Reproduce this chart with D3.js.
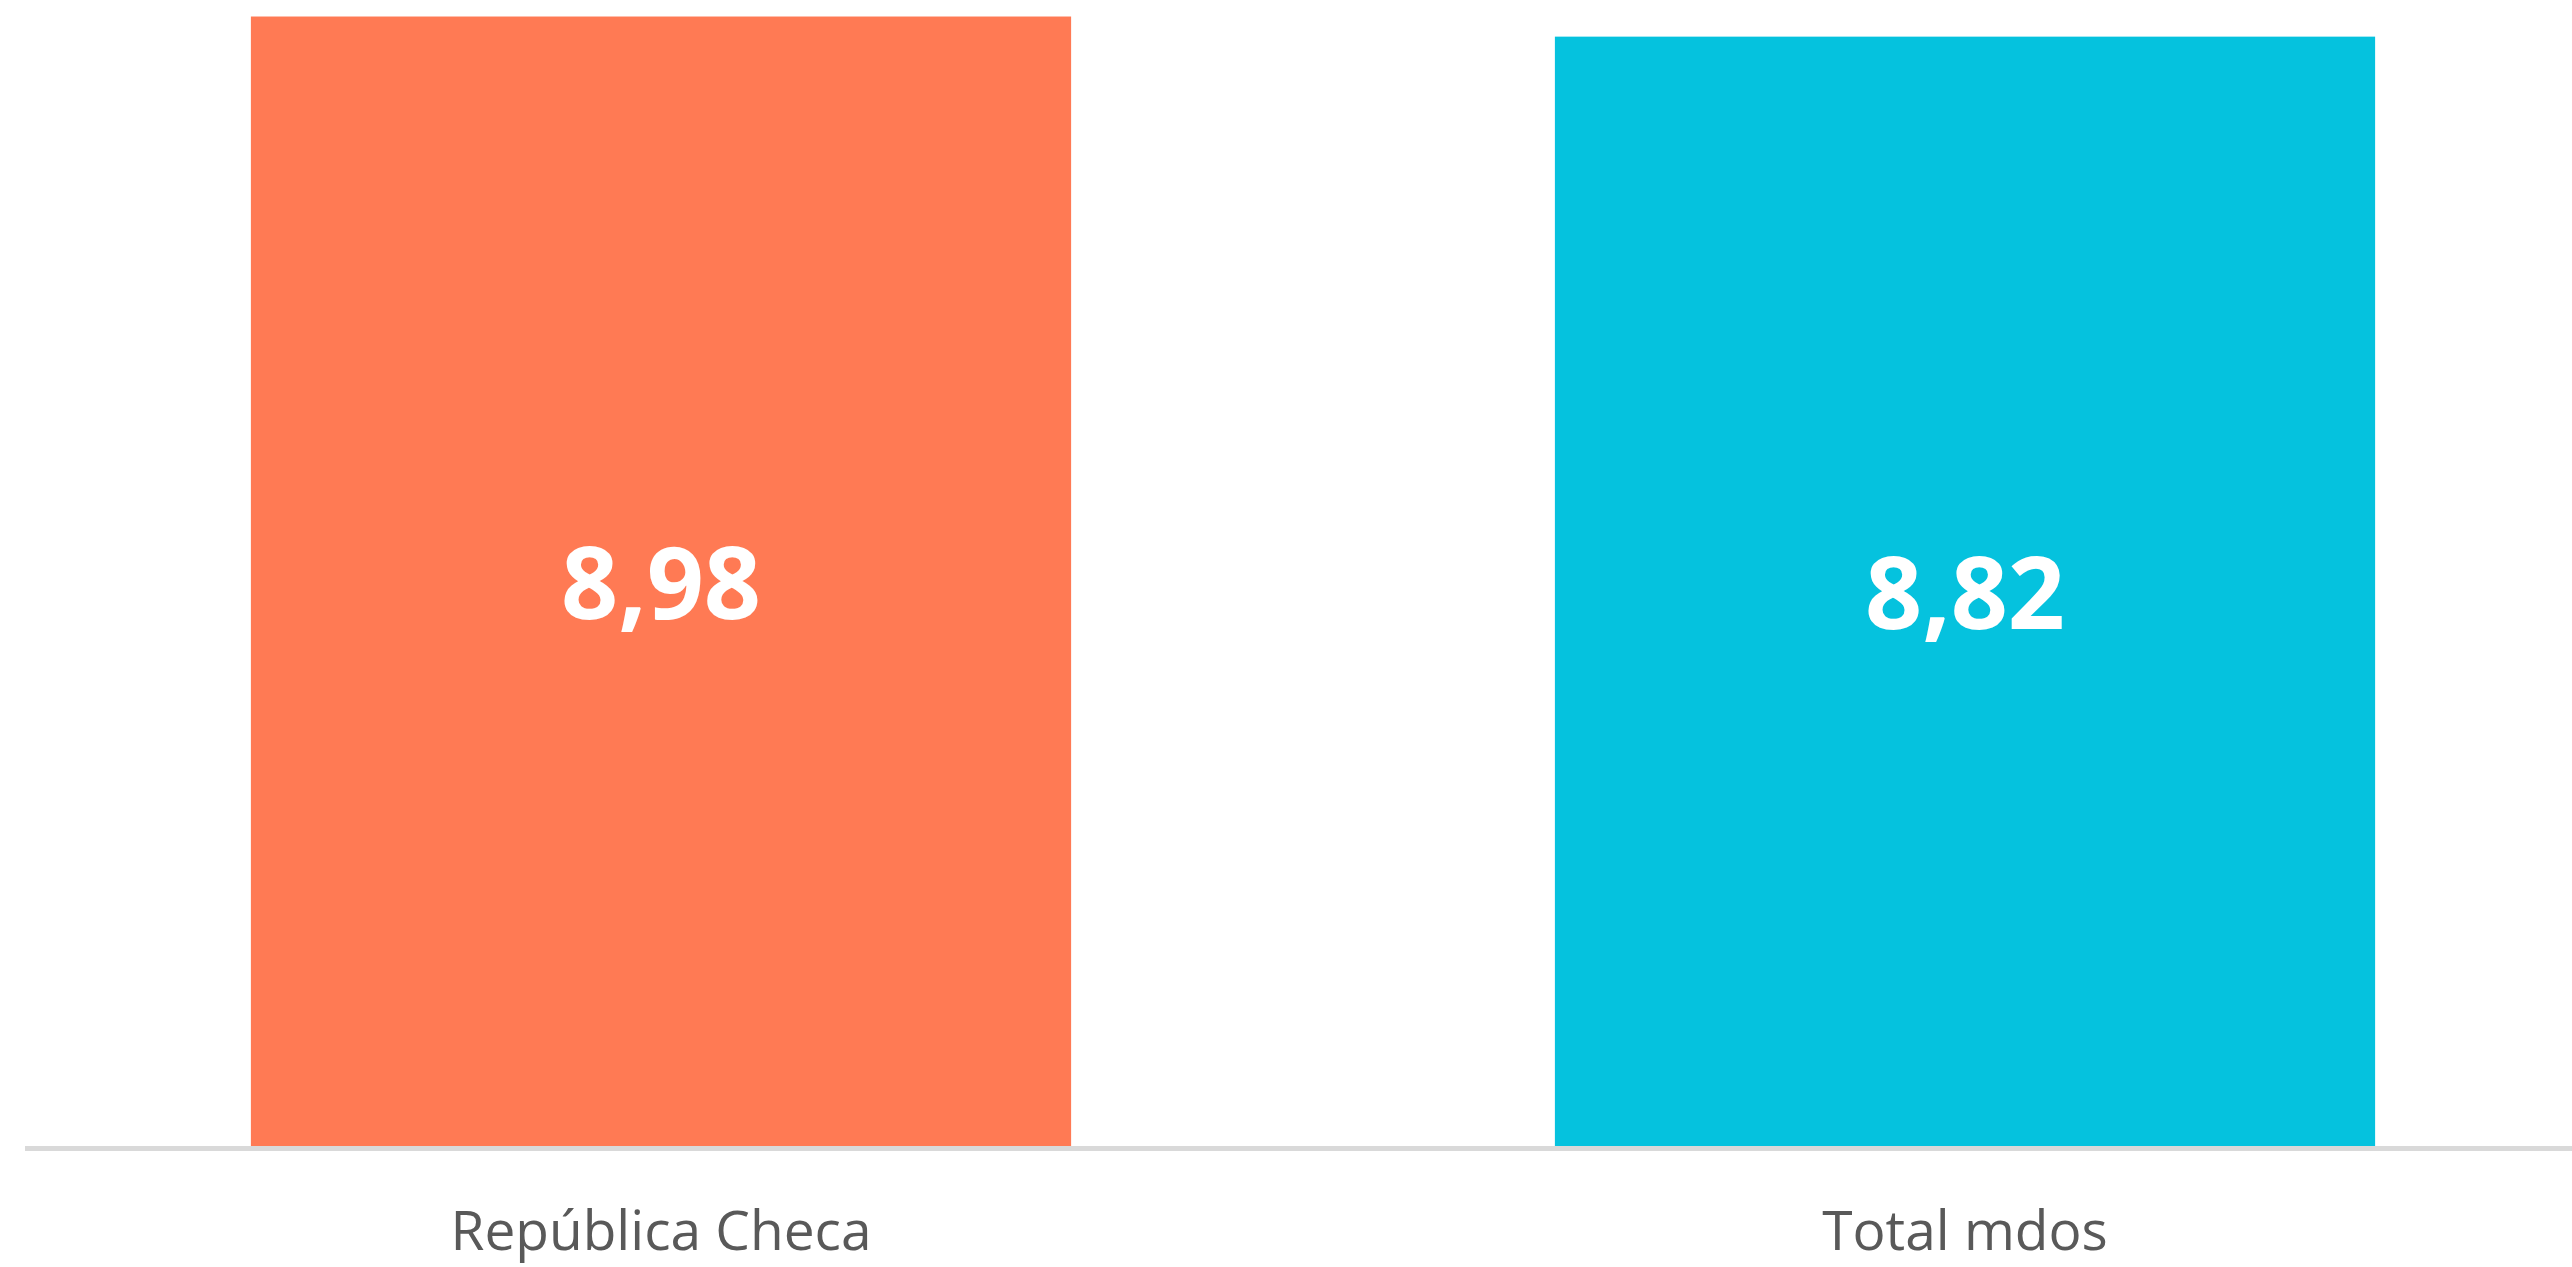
<!DOCTYPE html>
<html>
<head>
<meta charset="utf-8">
<script src="https://cdn.jsdelivr.net/npm/d3@7"></script>
<style>
html,body{margin:0;padding:0;background:#fff;overflow:hidden;}
</style>
</head>
<body>
<svg id="chart" width="2572" height="1267"></svg>
<script>
const categories = ["República Checa", "Total mdos"];
const values = [8.98, 8.82];
const valueLabels = ["8,98", "8,82"];
const barColors = ["#FF7A54", "#05C2DE"];

const W = 2572, H = 1267;
const svg = d3.select("#chart");

const x = d3.scaleBand().domain(categories).range([9, 2617]).paddingInner(0.371).paddingOuter(0.1855);
const y = d3.scaleLinear().domain([0, 9]).range([1146, 14]);

svg.append("g").selectAll("rect").data(categories).join("rect")
  .attr("x", d => x(d))
  .attr("width", x.bandwidth())
  .attr("y", (d, i) => y(values[i]))
  .attr("height", (d, i) => y(0) - y(values[i]))
  .attr("fill", (d, i) => barColors[i]);

// axis baseline
svg.append("line")
  .attr("x1", 25).attr("x2", W)
  .attr("y1", y(0) + 2.5).attr("y2", y(0) + 2.5)
  .attr("stroke", "#D9D9D9").attr("stroke-width", 5);

// value labels
svg.append("g").selectAll("text").data(categories).join("text")
  .attr("x", d => x(d) + x.bandwidth() / 2)
  .attr("y", (d, i) => (y(values[i]) + y(0)) / 2 + 38)
  .attr("text-anchor", "middle")
  .attr("font-family", "'Open Sans', sans-serif")
  .attr("font-weight", 700)
  .attr("font-size", 100)
  .attr("fill", "#FFFFFF")
  .text((d, i) => valueLabels[i]);

// category labels
svg.append("g").selectAll("text").data(categories).join("text")
  .attr("x", d => x(d) + x.bandwidth() / 2)
  .attr("y", 1250)
  .attr("text-anchor", "middle")
  .attr("font-family", "'Open Sans', sans-serif")
  .attr("font-size", 55)
  .attr("fill", "#595959")
  .text(d => d);
</script>
</body>
</html>
